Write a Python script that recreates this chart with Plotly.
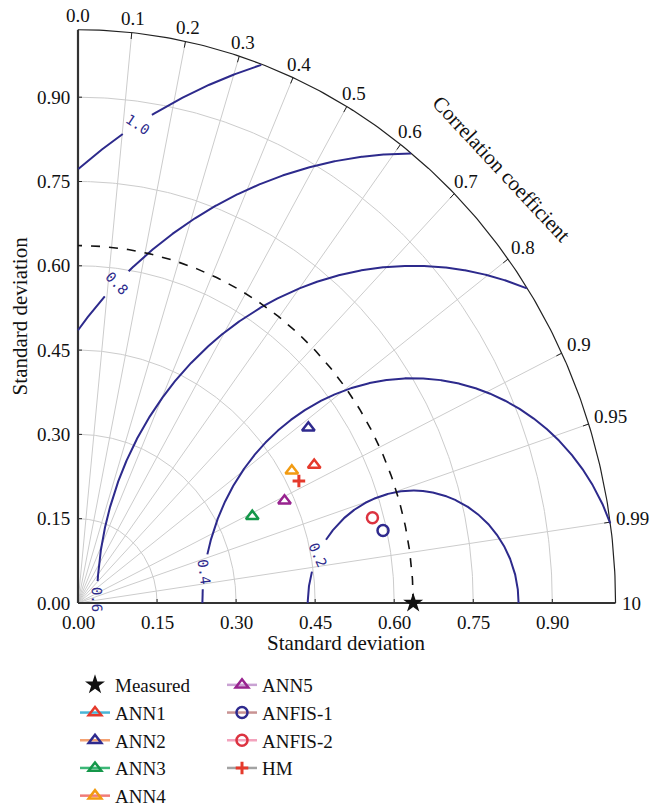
import numpy as np
import plotly.graph_objects as go

# ---------------- data ----------------
models = ["ANN1", "ANN2", "ANN3", "ANN4", "ANN5", "ANFIS-1", "ANFIS-2", "HM"]
model_std = [0.511, 0.537, 0.365, 0.469, 0.432, 0.593, 0.579, 0.472]
model_corr = [0.877, 0.814, 0.906, 0.865, 0.907, 0.976, 0.965, 0.888]
ref_name = "Measured"
ref_std = 0.636
ref_corr = 1.0

std_ticks = [0.0, 0.15, 0.30, 0.45, 0.60, 0.75, 0.90]
std_tick_labels = ["0.00", "0.15", "0.30", "0.45", "0.60", "0.75", "0.90"]
corr_ticks = [0.0, 0.1, 0.2, 0.3, 0.4, 0.5, 0.6, 0.7, 0.8, 0.9, 0.95, 0.99, 1.0]
corr_tick_labels = ["0.0", "0.1", "0.2", "0.3", "0.4", "0.5", "0.6", "0.7", "0.8",
                    "0.9", "0.95", "0.99", "10"]
rms_levels = [0.2, 0.4, 0.6, 0.8, 1.0]
rms_labels = ["0.2", "0.4", "0.6", "0.8", "1.0"]
max_std = 1.02

# ---------------- styles ----------------
rms_label_pos_deg = [154.8, 172.0, 179.3, 134.7, 121.6]
marker_symbols = ["triangle-up-open"] * 5 + ["circle-open", "circle-open", "cross-thin-open"]
marker_sizes = [11, 11, 11, 11, 11, 11, 11, 9]
marker_colors = ["#e53a2c", "#2f2a8e", "#15974a", "#f29b12", "#98238f",
                 "#2f2a8e", "#dc3340", "#e53a2c"]
legend_line_colors = ["#49b5d6", "#f4a272", "#3cb777", "#f07b78", "#c9a2d3",
                      "#c99393", "#f3a3bd", "#a3a3a3"]
legend_of = ["legend"] * 4 + ["legend2"] * 4
NAVY = "#2d2a8c"
GRID = "#cccccc"
FONT = "Liberation Serif"

W, H = 668, 810
X_RANGE = [-0.14801, 1.11954]
Y_RANGE = [-0.36833, 1.07295]
SX = W / (X_RANGE[1] - X_RANGE[0])
SY = H / (Y_RANGE[1] - Y_RANGE[0])


def polar(r, c):
    th = np.arccos(np.clip(c, -1, 1))
    return r * np.cos(th), r * np.sin(th)


fig = go.Figure()


def add_lines(xs, ys, color, width, dash="solid"):
    fig.add_trace(go.Scatter(x=xs, y=ys, mode="lines", showlegend=False,
                             hoverinfo="skip",
                             line=dict(color=color, width=width, dash=dash)))


# grey std arcs
gx, gy = [], []
th = np.linspace(0, np.pi / 2, 200)
for s in std_ticks[1:]:
    gx += list(s * np.cos(th)) + [None]
    gy += list(s * np.sin(th)) + [None]
# grey radial correlation lines
for c in corr_ticks[1:-1]:
    x1, y1 = polar(max_std, c)
    gx += [0, x1, None]
    gy += [0, y1, None]
add_lines(gx, gy, GRID, 1)

# correlation ticks on outer arc
tx, ty = [], []
for c in corr_ticks[1:-1]:
    xa, ya = polar(max_std - 6 / SX, c)
    xb, yb = polar(max_std, c)
    tx += [xa, xb, None]
    ty += [ya, yb, None]
# std ticks on axes
for s in std_ticks[1:]:
    tx += [s, s, None]
    ty += [0, 4 / SY, None]
    tx += [0, 4 / SX, None]
    ty += [s, s, None]
add_lines(tx, ty, "#222222", 1)

# outer arc
add_lines(list(max_std * np.cos(th)), list(max_std * np.sin(th)), "#222222", 1.2)
# axes
add_lines([0, 0, None, 0, max_std], [max_std, 0, None, 0, 0], "#333333", 2.2)

# RMS contours
tt = np.linspace(0, np.pi, 1500)
for lev, lab, pos in zip(rms_levels, rms_labels, rms_label_pos_deg):
    cx = ref_std + lev * np.cos(tt)
    cy = lev * np.sin(tt)
    ok = (cx >= 0) & (cx ** 2 + cy ** 2 <= max_std ** 2)
    gap = 17.0 / (lev * 545.0)
    ok &= np.abs(tt - np.radians(pos)) > gap
    cxp = np.where(ok, cx, np.nan)
    cyp = np.where(ok, cy, np.nan)
    add_lines(cxp, cyp, NAVY, 2)
    t = np.radians(pos)
    lx = ref_std + lev * np.cos(t)
    ly = lev * np.sin(t)
    dxp, dyp = lev * np.sin(t) * SX, lev * np.cos(t) * SY
    ang = np.degrees(np.arctan2(-dyp, dxp))
    fig.add_annotation(x=lx, y=ly, text=lab, showarrow=False, textangle=ang,
                       font=dict(family="DejaVu Sans Mono", size=14, color=NAVY),
                       xanchor="center", yanchor="middle")

# reference dashed arc
add_lines(list(ref_std * np.cos(th)), list(ref_std * np.sin(th)), "#111111", 1.6, "dash")

# model points
rx, ry = polar(ref_std, ref_corr)
fig.add_trace(go.Scatter(x=[rx], y=[ry], mode="markers", name=ref_name,
                         legend="legend", cliponaxis=False,
                         marker=dict(symbol="star", size=15, color="#111111")))
for i, m in enumerate(models):
    mx, my = polar(model_std[i], model_corr[i])
    fig.add_trace(go.Scatter(
        x=[mx], y=[my], mode="lines+markers", name=m, legend=legend_of[i],
        line=dict(color=legend_line_colors[i], width=2.5),
        marker=dict(symbol=marker_symbols[i], size=marker_sizes[i],
                    color=marker_colors[i],
                    line=dict(color=marker_colors[i], width=2.5 if i < 7 else 3))))

# std tick labels
for s, lab in zip(std_ticks, std_tick_labels):
    fig.add_annotation(x=s, y=0, text=lab, showarrow=False, yshift=-19,
                       xanchor="center", yanchor="middle",
                       font=dict(family=FONT, size=19, color="#111"))
    fig.add_annotation(x=0, y=s, text=lab, showarrow=False, xshift=-6,
                       xanchor="right", yanchor="middle",
                       font=dict(family=FONT, size=19, color="#111"))

# correlation tick labels
for c, lab in zip(corr_ticks, corr_tick_labels):
    x0, y0 = polar(max_std, c)
    thc = np.arccos(c)
    ux, uy = np.cos(thc) * SX, -np.sin(thc) * SY
    nn = np.hypot(ux, uy)
    ux, uy = ux / nn, uy / nn
    w = 9.5 * sum(ch.isdigit() for ch in lab) + 4.8 * lab.count(".")
    hw, hh = w / 2, 8
    cand = []
    if abs(ux) > 1e-6:
        cand.append(hw / abs(ux))
    if abs(uy) > 1e-6:
        cand.append(hh / abs(uy))
    d = 6 + min(cand)
    fig.add_annotation(x=x0 + ux * d / SX, y=y0 - uy * d / SY, text=lab,
                       showarrow=False, xanchor="center", yanchor="middle",
                       font=dict(family=FONT, size=19, color="#111"))

# titles
fig.add_annotation(x=max_std / 2, y=0, text="Standard deviation", showarrow=False,
                   yshift=-40, xanchor="center", yanchor="middle",
                   font=dict(family=FONT, size=21, color="#111"))
fig.add_annotation(x=0, y=max_std / 2, text="Standard deviation", showarrow=False,
                   xshift=-58, textangle=-90, xanchor="center", yanchor="middle",
                   font=dict(family=FONT, size=21, color="#111"))
cx_, cy_ = polar(max_std, 0.715)
fig.add_annotation(x=cx_ + 39 / SX, y=cy_ + 33 / SY, text="Correlation coefficient",
                   showarrow=False, textangle=47, xanchor="center", yanchor="middle",
                   font=dict(family=FONT, size=21, color="#111"))

leg_common = dict(font=dict(family=FONT, size=19, color="#111"),
                  bgcolor="rgba(0,0,0,0)", orientation="v",
                  xanchor="left", yanchor="top", tracegroupgap=0)
fig.update_layout(
    width=W, height=H,
    margin=dict(l=0, r=0, t=0, b=0, autoexpand=False),
    paper_bgcolor="white", plot_bgcolor="white",
    xaxis=dict(range=X_RANGE, visible=False, fixedrange=True),
    yaxis=dict(range=Y_RANGE, visible=False, fixedrange=True),
    showlegend=True,
    legend=dict(x=75 / W, y=1 - 666 / H, **leg_common),
    legend2=dict(x=222 / W, y=1 - 666 / H, **leg_common),
)
fig.write_html("out.html")
